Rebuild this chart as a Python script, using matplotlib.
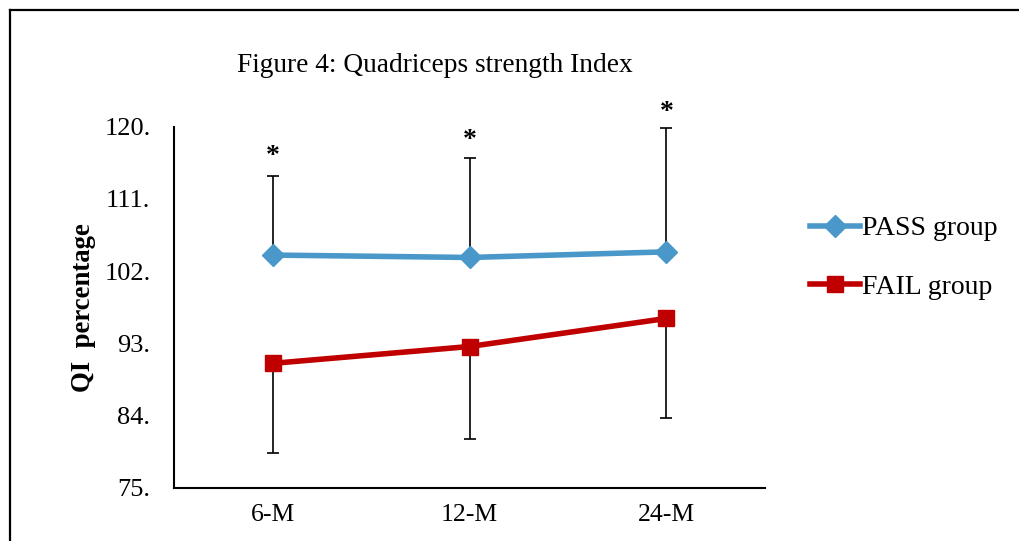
import matplotlib.pyplot as plt
from matplotlib.lines import Line2D

# data
timepoints = ['6-M', '12-M', '24-M']
pass_mean = [104.0, 103.7, 104.4]
pass_sd = [9.8, 12.4, 15.4]
fail_mean = [90.5, 92.6, 96.1]
fail_sd = [11.2, 11.5, 12.4]
y_ticks = [75, 84, 93, 102, 111, 120]
y_tick_labels = ['75.', '84.', '93.', '102.', '111.', '120.']

plt.rcParams['font.family'] = ['Liberation Serif', 'DejaVu Serif']

fig = plt.figure(figsize=(10.19, 5.41), dpi=100)
ax = fig.add_axes([0.1708, 0.0985, 0.5799, 0.6673])

x = range(len(timepoints))

# error bars: PASS upward only, FAIL downward only
ax.errorbar(x, pass_mean, yerr=[[0] * 3, pass_sd], fmt='none', ecolor='black',
            elinewidth=1.2, capsize=4.5, capthick=1.2, zorder=1)
ax.errorbar(x, fail_mean, yerr=[fail_sd, [0] * 3], fmt='none', ecolor='black',
            elinewidth=1.2, capsize=4.5, capthick=1.2, zorder=1)

ax.plot(x, pass_mean, color='#4A98CA', lw=4, marker='D', markersize=11,
        label='PASS group', zorder=3)
ax.plot(x, fail_mean, color='#C00000', lw=4, marker='s', markersize=12,
        label='FAIL group', zorder=3)

# significance stars above PASS bars
star_gap = [10, 8, 6.5]
for i in x:
    ax.annotate('*', (i, pass_mean[i] + pass_sd[i]), xytext=(0, star_gap[i]),
                textcoords='offset points', ha='center', va='baseline',
                fontsize=20, fontweight='bold', annotation_clip=False)

ax.set_xlim(-0.5, 2.5)
ax.set_ylim(75, 120)
ax.set_xticks(list(x))
ax.set_xticklabels(timepoints, fontsize=18.5)
ax.set_yticks(y_ticks)
ax.set_yticklabels(y_tick_labels, fontsize=19)
ax.tick_params(axis='both', length=0)
ax.tick_params(axis='y', pad=17)
ax.tick_params(axis='x', pad=12)
for s in ['top', 'right']:
    ax.spines[s].set_visible(False)
for s in ['left', 'bottom']:
    ax.spines[s].set_linewidth(1.5)

fig.text(84 / 1019, 1 - 307.5 / 541, 'QI  percentage', rotation=90, fontsize=19.3,
         fontweight='bold', ha='center', va='center')
fig.text(435 / 1019, 1 - 65 / 541, 'Figure 4: Quadriceps strength Index',
         fontsize=19.7, ha='center', va='center')

fig.legend(loc='center left', bbox_to_anchor=(810 / 1019, 1 - 258 / 541),
           frameon=False, fontsize=20, borderpad=0, borderaxespad=0,
           handlelength=1.8, handletextpad=0.07, labelspacing=1.19)

# outer frame (left and top edges)
fig.add_artist(Line2D([9.5 / 1019, 9.5 / 1019], [0, 1 - 9.5 / 541],
                      color='black', lw=1.6, transform=fig.transFigure))
fig.add_artist(Line2D([9.5 / 1019, 1], [1 - 9.5 / 541, 1 - 9.5 / 541],
                      color='black', lw=1.6, transform=fig.transFigure))

fig.savefig('out.png', dpi=100)
